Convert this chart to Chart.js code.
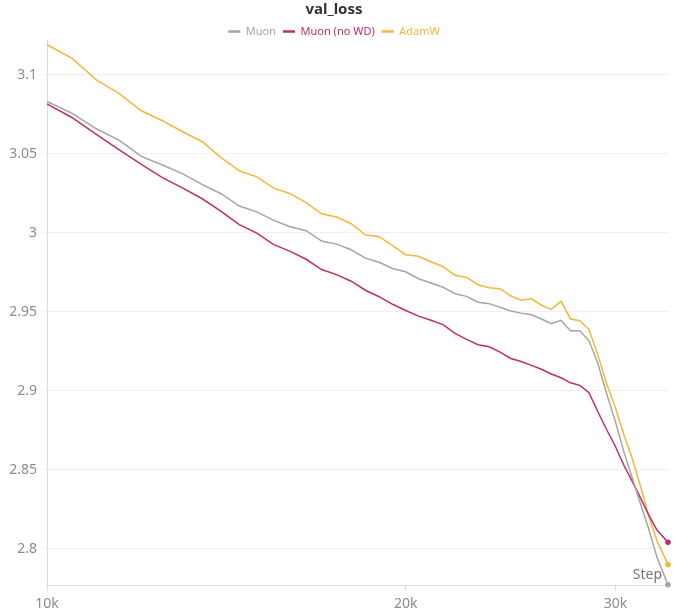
<!DOCTYPE html>
<html>
<head>
<meta charset="utf-8">
<script src="https://cdn.jsdelivr.net/npm/chart.js@4"></script>
<style>
  html, body { margin: 0; padding: 0; background: #fff; }
  #wrap { width: 680px; height: 616px; }
</style>
</head>
<body>
<div id="wrap"><canvas id="loss-chart"></canvas></div>
<script>
const steps = [
  10000, 10500, 11000, 11500, 12000, 12500, 13000, 13500, 14000, 14500,
  15000, 15500, 16000, 16500, 17000, 17500, 18000, 18500, 19000, 19500,
  20000, 20500, 21000, 21500, 22000, 22500, 23000, 23500, 24000, 24500,
  25000, 25500, 26000, 26500, 27000, 27500, 28000, 28500, 29000, 29500,
  30000, 30500, 31000, 31500, 32000, 32500, 33200,
];

const muon = [
  3.0831, 3.0756, 3.0658, 3.0585, 3.0483, 3.0429, 3.0373, 3.0304, 3.0247, 3.0169,
  3.0132, 3.0078, 3.0038, 3.0013, 2.9947, 2.9928, 2.9892, 2.9839, 2.9813, 2.9774,
  2.9753, 2.9709, 2.9682, 2.9655, 2.9614, 2.9597, 2.956, 2.9551, 2.9528, 2.9505,
  2.9491, 2.9481, 2.9454, 2.9424, 2.9445, 2.938, 2.938, 2.9316, 2.9169, 2.8978,
  2.8801, 2.8608, 2.8443, 2.8278, 2.812, 2.7945, 2.7772,
];

const muonNoWd = [
  3.0816, 3.0728, 3.0623, 3.0525, 3.0433, 3.0349, 3.0282, 3.0215, 3.0135, 3.0051,
  2.9997, 2.9925, 2.9882, 2.9832, 2.9767, 2.9735, 2.9693, 2.9636, 2.9595, 2.9547,
  2.9508, 2.9472, 2.9446, 2.9418, 2.9363, 2.9325, 2.9291, 2.9278, 2.9244, 2.9204,
  2.9185, 2.916, 2.9136, 2.9106, 2.9082, 2.905, 2.9034, 2.8987, 2.8865, 2.8751,
  2.8645, 2.8525, 2.8423, 2.8317, 2.8211, 2.8118, 2.804,
];

const adamw = [
  3.119, 3.1104, 3.0968, 3.088, 3.0772, 3.0709, 3.0639, 3.0576, 3.0475, 3.0392,
  3.0354, 3.0282, 3.0247, 3.019, 3.012, 3.0099, 3.0057, 2.9987, 2.9975, 2.9919,
  2.9861, 2.9851, 2.9816, 2.9785, 2.9731, 2.9717, 2.9671, 2.9652, 2.9646, 2.9601,
  2.9573, 2.9582, 2.9541, 2.9515, 2.9566, 2.9454, 2.9443, 2.9386, 2.9222, 2.9041,
  2.8889, 2.8718, 2.8566, 2.8389, 2.8203, 2.8051, 2.7899,
];

const seriesNames = ["Muon", "Muon (no WD)", "AdamW"];
const seriesColors = ["#a5a5a5", "#bf2d6c", "#f4b73a"];
const xTicks = [10000, 20000, 30000];
const yTicks = [2.8, 2.85, 2.9, 2.95, 3, 3.05, 3.1];
const xTitle = "Step";
const chartTitle = "val_loss";

const FONT = "'Noto Sans', 'Open Sans', sans-serif";
const TICK_COLOR = "#8c8c8c";
const LEGEND_HEIGHT = 21;

function toPoints(values) {
  return values.map((v, i) => ({ x: steps[i], y: v }));
}

function makeDataset(name, values, color) {
  const last = values.length - 1;
  return {
    label: name,
    data: toPoints(values),
    borderColor: color,
    backgroundColor: color,
    borderWidth: 1.5,
    fill: false,
    tension: 0,
    clip: 8,
    pointStyle: "circle",
    pointBorderWidth: 0,
    pointRadius: (ctx) => (ctx.dataIndex === last ? 2.8 : 0),
    pointHoverRadius: 0,
  };
}

// Axis title drawn inside the plot, bottom right, the way the source does it
const stepLabel = {
  id: "stepLabel",
  afterDraw(chart) {
    const { ctx, chartArea } = chart;
    ctx.save();
    ctx.font = `14px ${FONT}`;
    ctx.fillStyle = "#777";
    ctx.textAlign = "right";
    ctx.textBaseline = "middle";
    ctx.fillText(xTitle, chartArea.right - 6, chartArea.bottom - 10);
    ctx.restore();
  },
};

const datasets = [
  makeDataset(seriesNames[0], muon, seriesColors[0]),
  makeDataset(seriesNames[1], muonNoWd, seriesColors[1]),
  makeDataset(seriesNames[2], adamw, seriesColors[2]),
];

const chart = new Chart(document.getElementById("loss-chart"), {
  type: "line",
  data: { datasets },
  plugins: [stepLabel],
  options: {
    responsive: true,
    maintainAspectRatio: false,
    animation: false,
    layout: { padding: { left: 0, right: 12, top: 0, bottom: 0 } },
    plugins: {
      title: {
        display: true,
        text: chartTitle,
        color: "#333",
        font: { family: FONT, size: 15, weight: "bold" },
        padding: { top: 1, bottom: 0 },
      },
      legend: {
        display: true,
        labels: {
          font: { family: FONT, size: 11 },
          usePointStyle: true,
          pointStyleWidth: 12,
          boxHeight: 10,
          padding: 7,
          generateLabels: (chart) =>
            chart.data.datasets.map((ds, i) => ({
              text: ds.label,
              fillStyle: ds.borderColor,
              strokeStyle: ds.borderColor,
              fontColor: ds.borderColor,
              lineWidth: 2.5,
              pointStyle: "line",
              hidden: false,
              datasetIndex: i,
            })),
        },
      },
      tooltip: { enabled: false },
    },
    scales: {
      x: {
        type: "logarithmic",
        min: 10000,
        max: 33200,
        afterBuildTicks: (scale) => {
          scale.ticks = xTicks.map((v) => ({ value: v }));
        },
        afterFit: (scale) => {
          scale.height = 31;
        },
        ticks: {
          color: TICK_COLOR,
          font: { family: FONT, size: 14 },
          maxRotation: 0,
          autoSkip: false,
          padding: 5,
          callback: (v) => `${v / 1000}k`,
        },
        grid: {
          drawOnChartArea: false,
          color: "#dcdcdc",
          tickLength: 6,
        },
        border: { color: "#dcdcdc" },
      },
      y: {
        type: "linear",
        min: 2.777,
        max: 3.122,
        afterBuildTicks: (scale) => {
          scale.ticks = yTicks.map((v) => ({ value: v }));
        },
        afterFit: (scale) => {
          scale.width = 47;
        },
        ticks: {
          color: TICK_COLOR,
          font: { family: FONT, size: 14 },
          padding: 6,
          callback: (v) => String(Number(v.toFixed(2))),
        },
        grid: {
          color: "#f0f0f0",
          tickLength: 4,
        },
        border: { color: "#dcdcdc" },
      },
    },
  },
});

// Tighten the legend box so the plot starts right under it
const legendFit = chart.legend.fit.bind(chart.legend);
chart.legend.fit = function () {
  legendFit();
  this.height = LEGEND_HEIGHT;
};
chart.update();
</script>
</body>
</html>
